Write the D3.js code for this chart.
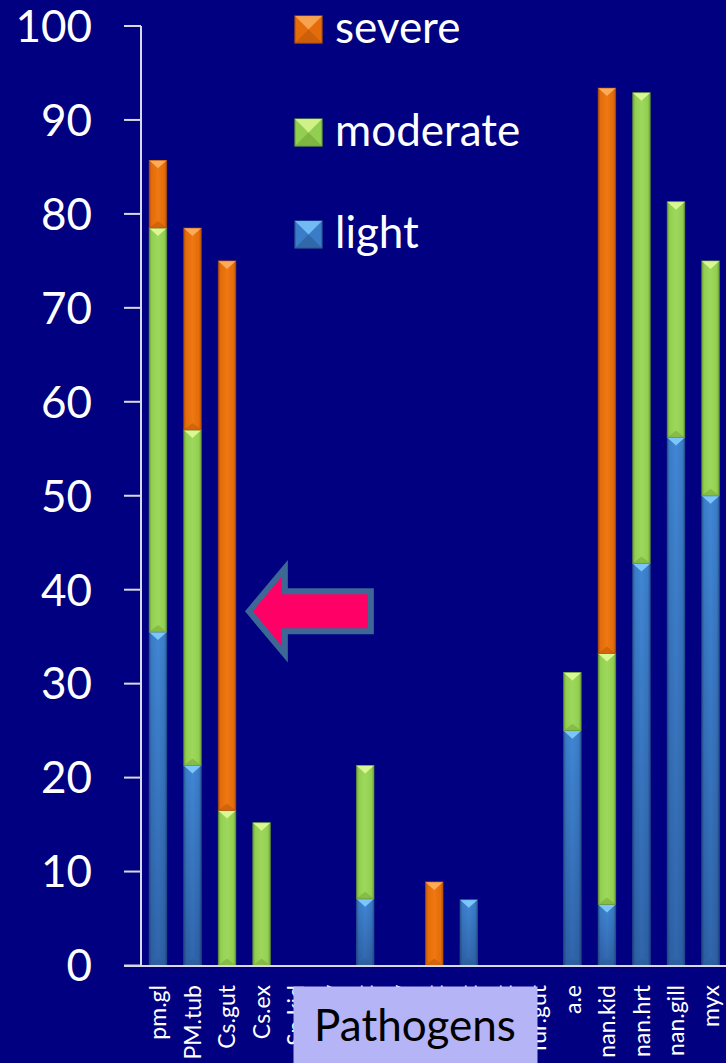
<!DOCTYPE html>
<html><head><meta charset="utf-8">
<script src="https://cdn.jsdelivr.net/npm/d3@7"></script>
<style>html,body{margin:0;padding:0;background:#000080;overflow:hidden}</style>
</head><body>
<svg id="c" width="726" height="1063"></svg>
<script>
const categories = ["pm.gl","PM.tub","Cs.gut","Cs.ex","Sp.kid","Sp.ly","Sp.gut","Ic.ly","Ic.gut","Tr.hrt","Tr.gut","Tur.gut","a.e","nan.kid","nan.hrt","nan.gill","myx"];
const light    = [35.5,21.3,0,0,0,0,7.1,0,0,7.0,0,0,25,6.5,42.8,56.2,50];
const moderate = [43,35.7,16.5,15.2,0,0,14.2,0,0,0,0,0,6.2,26.7,50.1,25.1,25];
const severe   = [7.2,21.5,58.5,0,0,0,0,0,8.9,0,0,0,0,60.2,0,0,0];
const seriesNames = ["light","moderate","severe"];
const yTicks = [0,10,20,30,40,50,60,70,80,90,100];
const axisTitle = "Pathogens";

const W = 726, H = 1063;
const svg = d3.select("#c");
svg.append("rect").attr("width",W).attr("height",H).attr("fill","#000080");

const x = d3.scaleBand().domain(categories).range([140.7, 727.8]).paddingInner(0.49).paddingOuter(0.245);
const y = d3.scaleLinear().domain([0,100]).range([965.5, 26]);

const table = categories.map((c,i)=>({cat:c, light:light[i], moderate:moderate[i], severe:severe[i]}));
const stacked = d3.stack().keys(seriesNames)(table);

const pal = {
  light:    {edge:"#2b5a93", base:"#3a7cc8", mid:"#4187d4", top:"#7cc6fb", bot:"#2d5f9c"},
  moderate: {edge:"#6e9e36", base:"#92cf50", mid:"#9dd85c", top:"#d9f792", bot:"#78ab3c"},
  severe:   {edge:"#b4520a", base:"#e46c0a", mid:"#ee7812", top:"#fbab5a", bot:"#c25a08"}
};
const defs = svg.append("defs");
seriesNames.forEach(k=>{
  const g = defs.append("linearGradient").attr("id","g-"+k).attr("x1","0").attr("x2","1").attr("y1","0").attr("y2","0");
  [[0,pal[k].edge],[0.14,pal[k].base],[0.5,pal[k].mid],[0.86,pal[k].base],[1,pal[k].edge]].forEach(s=>
    g.append("stop").attr("offset",s[0]).attr("stop-color",s[1]));
});
const shade = defs.append("linearGradient").attr("id","shade").attr("x1","0").attr("x2","0").attr("y1","0").attr("y2","1");
shade.append("stop").attr("offset",0).attr("stop-color","#000030").attr("stop-opacity",0);
shade.append("stop").attr("offset",1).attr("stop-color","#000030").attr("stop-opacity",0.25);

// y axis
const axG = svg.append("g");
axG.append("line").attr("x1",141).attr("x2",141).attr("y1",y(100)).attr("y2",y(0)).attr("stroke","#d9d9e6").attr("stroke-width",2);
axG.selectAll("line.t").data(yTicks).join("line").attr("class","t")
  .attr("x1",124).attr("x2",141).attr("y1",d=>y(d)).attr("y2",d=>y(d)).attr("stroke","#d9d9e6").attr("stroke-width",2);
axG.selectAll("text").data(yTicks).join("text")
  .attr("x",92).attr("y",d=>y(d)).attr("dy","0.36em").attr("text-anchor","end")
  .attr("font-family","Lato").attr("font-size",44).attr("fill","#fff").text(d=>d);

// bars
const bw = x.bandwidth();
stacked.forEach(layer=>{
  const k = layer.key;
  const g = svg.append("g");
  layer.forEach(d=>{
    const v = d[1]-d[0];
    if (v <= 0) return;
    const cx = x(d.data.cat), yt = y(d[1]), yb = y(d[0]);
    g.append("rect").attr("x",cx).attr("y",yt).attr("width",bw).attr("height",yb-yt).attr("fill","url(#g-"+k+")");
    if (k === "light") g.append("rect").attr("x",cx).attr("y",yt).attr("width",bw).attr("height",yb-yt).attr("fill","url(#shade)");
    g.append("path").attr("d",`M${cx},${yb}L${cx+bw/2},${yb-7}L${cx+bw},${yb}Z`).attr("fill",pal[k].bot).attr("opacity",0.6);
    g.append("path").attr("d",`M${cx},${yt}L${cx+bw},${yt}L${cx+bw/2},${yt+8}Z`).attr("fill",pal[k].top);
    g.append("rect").attr("x",cx).attr("y",yt).attr("width",bw).attr("height",yb-yt).attr("fill","none")
      .attr("stroke",pal[k].edge).attr("stroke-width",0.8).attr("opacity",0.7);
  });
});

// x axis line
svg.append("line").attr("x1",124).attr("x2",W).attr("y1",y(0)+0.5).attr("y2",y(0)+0.5).attr("stroke","#d9d9e6").attr("stroke-width",2);

// x labels
svg.append("g").selectAll("text").data(categories).join("text")
  .attr("transform",d=>`translate(${x(d)+bw/2},985) rotate(-90)`)
  .attr("dy","0.36em").attr("text-anchor","end")
  .attr("font-family","Lato").attr("font-size",23).attr("fill","#fff").text(d=>d);

// Pathogens box
svg.append("rect").attr("x",293.5).attr("y",986.5).attr("width",244).attr("height",80).attr("fill","#b4b4f7");
svg.append("text").attr("x",415).attr("y",1041).attr("text-anchor","middle")
  .attr("font-family","Lato").attr("font-size",44).attr("fill","#000").text(axisTitle);

// legend
const leg = svg.append("g");
const legOrder = ["severe","moderate","light"];
const legBase = [43,146,248];
legOrder.forEach((k,i)=>{
  const by = legBase[i];
  const sx = 295, s = 27;
  leg.append("rect").attr("x",sx).attr("y",by-s).attr("width",s).attr("height",s).attr("fill",pal[k].base).attr("stroke",pal[k].edge).attr("stroke-width",1.2);
  leg.append("path").attr("d",`M${sx},${by-s}L${sx+s},${by-s}L${sx+s/2},${by-s/2}Z`).attr("fill",pal[k].top).attr("opacity",0.85);
  leg.append("path").attr("d",`M${sx},${by}L${sx+s/2},${by-s/2}L${sx+s},${by}Z`).attr("fill",pal[k].bot).attr("opacity",0.7);
  leg.append("text").attr("x",335).attr("y",by).attr("font-family","Lato").attr("font-size",44).attr("fill","#fff").text(k);
});

// arrow annotation pointing at Cs.gut
const ax = x("Cs.gut") + bw + 13, ay = y(37.7);
svg.append("path")
  .attr("d","M0,0L36,-43L36,-20L122,-20L122,20L36,20L36,43Z")
  .attr("transform",`translate(${ax},${ay})`)
  .attr("fill","#ff0066").attr("stroke","#3d6794").attr("stroke-width",6).attr("stroke-linejoin","miter");
</script>
</body></html>
